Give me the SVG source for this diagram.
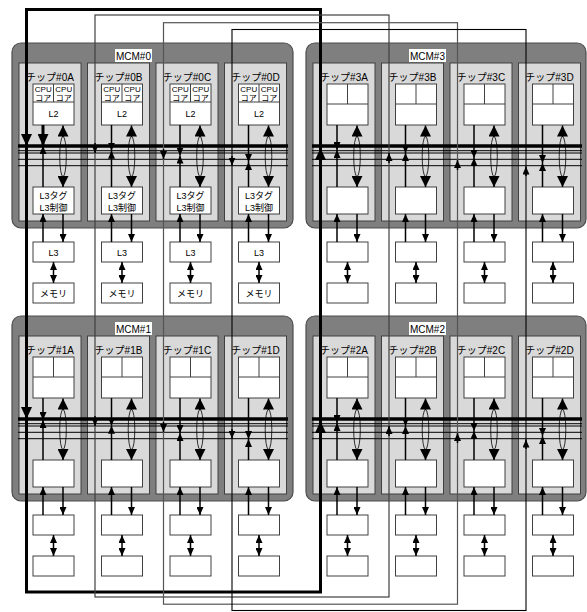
<svg xmlns="http://www.w3.org/2000/svg" width="587" height="612" viewBox="0 0 587 612">
<style>
.mcm{fill:#7f7f7f;stroke:#4d4d4d;stroke-width:1.2}
.chip{fill:#d9d9d9;stroke:#404040;stroke-width:1}
.box{fill:#fff;stroke:#404040;stroke-width:1}
.lbl{fill:#fff;stroke:none}
.sp{stroke:#404040;stroke-width:1}
text{font-family:"Liberation Sans","Noto Sans CJK JP",sans-serif;fill:#000;text-anchor:middle}
.t10{font-size:10px}
.t8{font-size:8px}
.t9{font-size:9px}
.bus{stroke:#000;stroke-width:1;fill:none}
.busT{stroke:#000;stroke-width:3.5}
.c{stroke:#000;stroke-width:1.4;fill:none}
.cs{stroke:#000;stroke-width:1.5;fill:none;marker-end:url(#as)}
.cm{stroke:#000;stroke-width:1.5;fill:none;marker-end:url(#am)}
.cb{stroke:#000;stroke-width:3;fill:none;marker-end:url(#ab)}
.dd{stroke:#000;stroke-width:1.5;fill:none;marker-start:url(#as);marker-end:url(#as)}
.el{stroke:#000;stroke-width:0.8;fill:none}
.lp1{stroke:#000;stroke-width:3;fill:none}
.lp2{stroke:#404040;stroke-width:1.2;fill:none}
.lp3{stroke:#555;stroke-width:1.2;fill:none}
.lp4{stroke:#000;stroke-width:1.1;fill:none}
</style>
<defs>
<marker id="as" viewBox="0 0 10 10" refX="10" refY="5" markerWidth="8" markerHeight="7" markerUnits="userSpaceOnUse" orient="auto-start-reverse" preserveAspectRatio="none"><path d="M0,0L10,5L0,10z" fill="#000"/></marker>
<marker id="am" viewBox="0 0 10 10" refX="10" refY="5" markerWidth="11" markerHeight="11" markerUnits="userSpaceOnUse" orient="auto" preserveAspectRatio="none"><path d="M0,0L10,5L0,10z" fill="#000"/></marker>
<marker id="ab" viewBox="0 0 10 10" refX="10" refY="5" markerWidth="12" markerHeight="11" markerUnits="userSpaceOnUse" orient="auto" preserveAspectRatio="none"><path d="M0,0L10,5L0,10z" fill="#000"/></marker>
</defs>

<!-- MCM#0 -->
<g id="mcm0">
<rect class="mcm" x="12" y="43" width="281" height="185" rx="9"/>
<rect class="lbl" x="115" y="49" width="37" height="13"/>
<text class="t10" x="133.5" y="59.5">MCM#0</text>
</g>
<g id="chip0A"><rect class="chip" x="19" y="63" width="62" height="158"/><text class="t10" x="50" y="81">チップ#0A</text>
<rect class="box" x="33" y="84" width="41" height="41"/><line class="sp" x1="53.5" y1="84" x2="53.5" y2="102"/><line class="sp" x1="33" y1="102" x2="74" y2="102"/>
<text class="t8" x="43.25" y="92">CPU</text><text class="t8" x="63.75" y="92">CPU</text><text class="t8" x="43.25" y="100.5">コア</text><text class="t8" x="63.75" y="100.5">コア</text><text class="t9" x="53.5" y="117">L2</text>
<rect class="box" x="33" y="187" width="41" height="27"/><text class="t9" x="53.5" y="198.5">L3タグ</text><text class="t9" x="53.5" y="210.5">L3制御</text></g>
<g id="chip0B"><rect class="chip" x="87.5" y="63" width="62" height="158"/><text class="t10" x="118.5" y="81">チップ#0B</text>
<rect class="box" x="101.5" y="84" width="41" height="41"/><line class="sp" x1="122" y1="84" x2="122" y2="102"/><line class="sp" x1="101.5" y1="102" x2="142.5" y2="102"/>
<text class="t8" x="111.75" y="92">CPU</text><text class="t8" x="132.25" y="92">CPU</text><text class="t8" x="111.75" y="100.5">コア</text><text class="t8" x="132.25" y="100.5">コア</text><text class="t9" x="122" y="117">L2</text>
<rect class="box" x="101.5" y="187" width="41" height="27"/><text class="t9" x="122" y="198.5">L3タグ</text><text class="t9" x="122" y="210.5">L3制御</text></g>
<g id="chip0C"><rect class="chip" x="156" y="63" width="62" height="158"/><text class="t10" x="187" y="81">チップ#0C</text>
<rect class="box" x="170" y="84" width="41" height="41"/><line class="sp" x1="190.5" y1="84" x2="190.5" y2="102"/><line class="sp" x1="170" y1="102" x2="211" y2="102"/>
<text class="t8" x="180.25" y="92">CPU</text><text class="t8" x="200.75" y="92">CPU</text><text class="t8" x="180.25" y="100.5">コア</text><text class="t8" x="200.75" y="100.5">コア</text><text class="t9" x="190.5" y="117">L2</text>
<rect class="box" x="170" y="187" width="41" height="27"/><text class="t9" x="190.5" y="198.5">L3タグ</text><text class="t9" x="190.5" y="210.5">L3制御</text></g>
<g id="chip0D"><rect class="chip" x="224.5" y="63" width="62" height="158"/><text class="t10" x="255.5" y="81">チップ#0D</text>
<rect class="box" x="238.5" y="84" width="41" height="41"/><line class="sp" x1="259" y1="84" x2="259" y2="102"/><line class="sp" x1="238.5" y1="102" x2="279.5" y2="102"/>
<text class="t8" x="248.75" y="92">CPU</text><text class="t8" x="269.25" y="92">CPU</text><text class="t8" x="248.75" y="100.5">コア</text><text class="t8" x="269.25" y="100.5">コア</text><text class="t9" x="259" y="117">L2</text>
<rect class="box" x="238.5" y="187" width="41" height="27"/><text class="t9" x="259" y="198.5">L3タグ</text><text class="t9" x="259" y="210.5">L3制御</text></g>
<g id="bus0"><line class="busT" x1="18" y1="146" x2="288" y2="146"/><line class="bus" x1="18" y1="150.7" x2="288" y2="150.7"/><line class="bus" x1="18" y1="153" x2="288" y2="153"/><line class="bus" x1="18" y1="159.3" x2="288" y2="159.3"/><line class="bus" x1="18" y1="165.7" x2="288" y2="165.7"/></g>
<g id="l3_0A"><rect class="box" x="33" y="242" width="41" height="20"/><text class="t9" x="53.5" y="255.5">L3</text></g>
<g id="mem0A"><rect class="box" x="33" y="283" width="41" height="20"/><text class="t9" x="53.5" y="296.5">メモリ</text></g>
<g id="l3_0B"><rect class="box" x="101.5" y="242" width="41" height="20"/><text class="t9" x="122" y="255.5">L3</text></g>
<g id="mem0B"><rect class="box" x="101.5" y="283" width="41" height="20"/><text class="t9" x="122" y="296.5">メモリ</text></g>
<g id="l3_0C"><rect class="box" x="170" y="242" width="41" height="20"/><text class="t9" x="190.5" y="255.5">L3</text></g>
<g id="mem0C"><rect class="box" x="170" y="283" width="41" height="20"/><text class="t9" x="190.5" y="296.5">メモリ</text></g>
<g id="l3_0D"><rect class="box" x="238.5" y="242" width="41" height="20"/><text class="t9" x="259" y="255.5">L3</text></g>
<g id="mem0D"><rect class="box" x="238.5" y="283" width="41" height="20"/><text class="t9" x="259" y="296.5">メモリ</text></g>

<!-- MCM#3 -->
<g id="mcm3">
<rect class="mcm" x="306" y="43" width="280" height="185" rx="9"/>
<rect class="lbl" x="409" y="49" width="37" height="13"/>
<text class="t10" x="427.5" y="59.5">MCM#3</text>
</g>
<g id="chip3A"><rect class="chip" x="313" y="63" width="62" height="158"/><text class="t10" x="344" y="81">チップ#3A</text>
<rect class="box" x="327" y="84" width="41" height="41"/><line class="sp" x1="347.5" y1="84" x2="347.5" y2="104"/><line class="sp" x1="327" y1="104" x2="368" y2="104"/><rect class="box" x="327" y="187" width="41" height="27"/></g>
<g id="chip3B"><rect class="chip" x="381.5" y="63" width="62" height="158"/><text class="t10" x="412.5" y="81">チップ#3B</text>
<rect class="box" x="395.5" y="84" width="41" height="41"/><line class="sp" x1="416" y1="84" x2="416" y2="104"/><line class="sp" x1="395.5" y1="104" x2="436.5" y2="104"/><rect class="box" x="395.5" y="187" width="41" height="27"/></g>
<g id="chip3C"><rect class="chip" x="450" y="63" width="62" height="158"/><text class="t10" x="481" y="81">チップ#3C</text>
<rect class="box" x="464" y="84" width="41" height="41"/><line class="sp" x1="484.5" y1="84" x2="484.5" y2="104"/><line class="sp" x1="464" y1="104" x2="505" y2="104"/><rect class="box" x="464" y="187" width="41" height="27"/></g>
<g id="chip3D"><rect class="chip" x="518.5" y="63" width="62" height="158"/><text class="t10" x="549.5" y="81">チップ#3D</text>
<rect class="box" x="532.5" y="84" width="41" height="41"/><line class="sp" x1="553" y1="84" x2="553" y2="104"/><line class="sp" x1="532.5" y1="104" x2="573.5" y2="104"/><rect class="box" x="532.5" y="187" width="41" height="27"/></g>
<g id="bus3"><line class="busT" x1="312" y1="146" x2="582" y2="146"/><line class="bus" x1="312" y1="150.7" x2="582" y2="150.7"/><line class="bus" x1="312" y1="153" x2="582" y2="153"/><line class="bus" x1="312" y1="159.3" x2="582" y2="159.3"/><line class="bus" x1="312" y1="165.7" x2="582" y2="165.7"/></g>
<g id="l3_3A"><rect class="box" x="327" y="242" width="41" height="20"/></g><g id="mem3A"><rect class="box" x="327" y="283" width="41" height="20"/></g>
<g id="l3_3B"><rect class="box" x="395.5" y="242" width="41" height="20"/></g><g id="mem3B"><rect class="box" x="395.5" y="283" width="41" height="20"/></g>
<g id="l3_3C"><rect class="box" x="464" y="242" width="41" height="20"/></g><g id="mem3C"><rect class="box" x="464" y="283" width="41" height="20"/></g>
<g id="l3_3D"><rect class="box" x="532.5" y="242" width="41" height="20"/></g><g id="mem3D"><rect class="box" x="532.5" y="283" width="41" height="20"/></g>

<!-- MCM#1 -->
<g id="mcm1">
<rect class="mcm" x="12" y="316" width="281" height="185" rx="9"/>
<rect class="lbl" x="115" y="322" width="37" height="13"/>
<text class="t10" x="133.5" y="332.5">MCM#1</text>
</g>
<g id="chip1A"><rect class="chip" x="19" y="336" width="62" height="158"/><text class="t10" x="50" y="354">チップ#1A</text>
<rect class="box" x="33" y="357" width="41" height="41"/><line class="sp" x1="53.5" y1="357" x2="53.5" y2="377"/><line class="sp" x1="33" y1="377" x2="74" y2="377"/><rect class="box" x="33" y="460" width="41" height="27"/></g>
<g id="chip1B"><rect class="chip" x="87.5" y="336" width="62" height="158"/><text class="t10" x="118.5" y="354">チップ#1B</text>
<rect class="box" x="101.5" y="357" width="41" height="41"/><line class="sp" x1="122" y1="357" x2="122" y2="377"/><line class="sp" x1="101.5" y1="377" x2="142.5" y2="377"/><rect class="box" x="101.5" y="460" width="41" height="27"/></g>
<g id="chip1C"><rect class="chip" x="156" y="336" width="62" height="158"/><text class="t10" x="187" y="354">チップ#1C</text>
<rect class="box" x="170" y="357" width="41" height="41"/><line class="sp" x1="190.5" y1="357" x2="190.5" y2="377"/><line class="sp" x1="170" y1="377" x2="211" y2="377"/><rect class="box" x="170" y="460" width="41" height="27"/></g>
<g id="chip1D"><rect class="chip" x="224.5" y="336" width="62" height="158"/><text class="t10" x="255.5" y="354">チップ#1D</text>
<rect class="box" x="238.5" y="357" width="41" height="41"/><line class="sp" x1="259" y1="357" x2="259" y2="377"/><line class="sp" x1="238.5" y1="377" x2="279.5" y2="377"/><rect class="box" x="238.5" y="460" width="41" height="27"/></g>
<g id="bus1"><line class="busT" x1="18" y1="419" x2="288" y2="419"/><line class="bus" x1="18" y1="423.7" x2="288" y2="423.7"/><line class="bus" x1="18" y1="426" x2="288" y2="426"/><line class="bus" x1="18" y1="432.3" x2="288" y2="432.3"/><line class="bus" x1="18" y1="438.7" x2="288" y2="438.7"/></g>
<g id="l3_1A"><rect class="box" x="33" y="515" width="41" height="20"/></g><g id="mem1A"><rect class="box" x="33" y="556" width="41" height="20"/></g>
<g id="l3_1B"><rect class="box" x="101.5" y="515" width="41" height="20"/></g><g id="mem1B"><rect class="box" x="101.5" y="556" width="41" height="20"/></g>
<g id="l3_1C"><rect class="box" x="170" y="515" width="41" height="20"/></g><g id="mem1C"><rect class="box" x="170" y="556" width="41" height="20"/></g>
<g id="l3_1D"><rect class="box" x="238.5" y="515" width="41" height="20"/></g><g id="mem1D"><rect class="box" x="238.5" y="556" width="41" height="20"/></g>

<!-- MCM#2 -->
<g id="mcm2">
<rect class="mcm" x="306" y="316" width="280" height="185" rx="9"/>
<rect class="lbl" x="409" y="322" width="37" height="13"/>
<text class="t10" x="427.5" y="332.5">MCM#2</text>
</g>
<g id="chip2A"><rect class="chip" x="313" y="336" width="62" height="158"/><text class="t10" x="344" y="354">チップ#2A</text>
<rect class="box" x="327" y="357" width="41" height="41"/><line class="sp" x1="347.5" y1="357" x2="347.5" y2="377"/><line class="sp" x1="327" y1="377" x2="368" y2="377"/><rect class="box" x="327" y="460" width="41" height="27"/></g>
<g id="chip2B"><rect class="chip" x="381.5" y="336" width="62" height="158"/><text class="t10" x="412.5" y="354">チップ#2B</text>
<rect class="box" x="395.5" y="357" width="41" height="41"/><line class="sp" x1="416" y1="357" x2="416" y2="377"/><line class="sp" x1="395.5" y1="377" x2="436.5" y2="377"/><rect class="box" x="395.5" y="460" width="41" height="27"/></g>
<g id="chip2C"><rect class="chip" x="450" y="336" width="62" height="158"/><text class="t10" x="481" y="354">チップ#2C</text>
<rect class="box" x="464" y="357" width="41" height="41"/><line class="sp" x1="484.5" y1="357" x2="484.5" y2="377"/><line class="sp" x1="464" y1="377" x2="505" y2="377"/><rect class="box" x="464" y="460" width="41" height="27"/></g>
<g id="chip2D"><rect class="chip" x="518.5" y="336" width="62" height="158"/><text class="t10" x="549.5" y="354">チップ#2D</text>
<rect class="box" x="532.5" y="357" width="41" height="41"/><line class="sp" x1="553" y1="357" x2="553" y2="377"/><line class="sp" x1="532.5" y1="377" x2="573.5" y2="377"/><rect class="box" x="532.5" y="460" width="41" height="27"/></g>
<g id="bus2"><line class="busT" x1="312" y1="419" x2="582" y2="419"/><line class="bus" x1="312" y1="423.7" x2="582" y2="423.7"/><line class="bus" x1="312" y1="426" x2="582" y2="426"/><line class="bus" x1="312" y1="432.3" x2="582" y2="432.3"/><line class="bus" x1="312" y1="438.7" x2="582" y2="438.7"/></g>
<g id="l3_2A"><rect class="box" x="327" y="515" width="41" height="20"/></g><g id="mem2A"><rect class="box" x="327" y="556" width="41" height="20"/></g>
<g id="l3_2B"><rect class="box" x="395.5" y="515" width="41" height="20"/></g><g id="mem2B"><rect class="box" x="395.5" y="556" width="41" height="20"/></g>
<g id="l3_2C"><rect class="box" x="464" y="515" width="41" height="20"/></g><g id="mem2C"><rect class="box" x="464" y="556" width="41" height="20"/></g>
<g id="l3_2D"><rect class="box" x="532.5" y="515" width="41" height="20"/></g><g id="mem2D"><rect class="box" x="532.5" y="556" width="41" height="20"/></g>

<g id="connectors">
<!-- ring loops -->
<rect class="lp1" x="26.5" y="9.5" width="294" height="582.5"/>
<rect class="lp2" x="95" y="15" width="294" height="582"/>
<rect class="lp3" x="163.5" y="22.7" width="294" height="581.5"/>
<rect class="lp4" x="232" y="29.5" width="294" height="581"/>
<!-- loop arrows into buses -->
<line class="cb" x1="26.5" y1="132" x2="26.5" y2="146"/>
<line class="cs" x1="95" y1="143" x2="95" y2="153"/>
<line class="cs" x1="163.5" y1="149" x2="163.5" y2="159"/>
<line class="cs" x1="232" y1="156" x2="232" y2="165.5"/>
<line class="cb" x1="26.5" y1="405" x2="26.5" y2="419"/>
<line class="cs" x1="95" y1="416" x2="95" y2="426"/>
<line class="cs" x1="163.5" y1="422" x2="163.5" y2="432"/>
<line class="cs" x1="232" y1="429" x2="232" y2="438.5"/>
<line class="cb" x1="320.5" y1="161" x2="320.5" y2="148"/>
<line class="cs" x1="389" y1="163" x2="389" y2="153"/>
<line class="cs" x1="457.5" y1="170" x2="457.5" y2="160"/>
<line class="cs" x1="526" y1="176" x2="526" y2="166.5"/>
<line class="cb" x1="320.5" y1="434" x2="320.5" y2="421"/>
<line class="cs" x1="389" y1="436" x2="389" y2="426"/>
<line class="cs" x1="457.5" y1="443" x2="457.5" y2="433"/>
<line class="cs" x1="526" y1="449" x2="526" y2="439.5"/>

<!-- per-chip connections: MCM#0 -->
<line class="cb" x1="43" y1="125" x2="43" y2="146"/><line class="cs" x1="43" y1="187" x2="43" y2="146"/>
<line class="cs" x1="111.5" y1="125" x2="111.5" y2="150.7"/><line class="cs" x1="111.5" y1="187" x2="111.5" y2="150.7"/>
<line class="cs" x1="180" y1="125" x2="180" y2="155.5"/><line class="cs" x1="180" y1="187" x2="180" y2="155.5"/>
<line class="cs" x1="248.5" y1="125" x2="248.5" y2="162"/><line class="cs" x1="248.5" y1="187" x2="248.5" y2="162"/>
<!-- MCM#3 -->
<line class="cs" x1="337" y1="125" x2="337" y2="150"/><line class="cs" x1="337" y1="187" x2="337" y2="150"/>
<line class="cs" x1="405.5" y1="125" x2="405.5" y2="153"/><line class="cs" x1="405.5" y1="187" x2="405.5" y2="153"/>
<line class="cs" x1="474" y1="125" x2="474" y2="158"/><line class="cs" x1="474" y1="187" x2="474" y2="158"/>
<line class="cs" x1="542.5" y1="125" x2="542.5" y2="163"/><line class="cs" x1="542.5" y1="187" x2="542.5" y2="163"/>
<!-- MCM#1 -->
<line class="cs" x1="43" y1="398" x2="43" y2="420"/><line class="cs" x1="43" y1="460" x2="43" y2="420"/>
<line class="cs" x1="111.5" y1="398" x2="111.5" y2="425.7"/><line class="cs" x1="111.5" y1="460" x2="111.5" y2="425.7"/>
<line class="cs" x1="180" y1="398" x2="180" y2="433"/><line class="cs" x1="180" y1="460" x2="180" y2="433"/>
<line class="cs" x1="248.5" y1="398" x2="248.5" y2="439"/><line class="cs" x1="248.5" y1="460" x2="248.5" y2="439"/>
<!-- MCM#2 -->
<line class="cs" x1="337" y1="398" x2="337" y2="423"/><line class="cs" x1="337" y1="460" x2="337" y2="423"/>
<line class="cs" x1="405.5" y1="398" x2="405.5" y2="426"/><line class="cs" x1="405.5" y1="460" x2="405.5" y2="426"/>
<line class="cs" x1="474" y1="398" x2="474" y2="431"/><line class="cs" x1="474" y1="460" x2="474" y2="431"/>
<line class="cs" x1="542.5" y1="398" x2="542.5" y2="436"/><line class="cs" x1="542.5" y1="460" x2="542.5" y2="436"/>

<!-- ring ellipses with arrows (top row) -->
<g id="rings">
<line class="cm" x1="63" y1="137" x2="63" y2="125.5"/><line class="cm" x1="63" y1="176" x2="63" y2="187"/><ellipse class="el" cx="63" cy="156.5" rx="3.3" ry="20"/>
<line class="cm" x1="131.5" y1="137" x2="131.5" y2="125.5"/><line class="cm" x1="131.5" y1="176" x2="131.5" y2="187"/><ellipse class="el" cx="131.5" cy="156.5" rx="3.3" ry="20"/>
<line class="cm" x1="200" y1="137" x2="200" y2="125.5"/><line class="cm" x1="200" y1="176" x2="200" y2="187"/><ellipse class="el" cx="200" cy="156.5" rx="3.3" ry="20"/>
<line class="cm" x1="268.5" y1="137" x2="268.5" y2="125.5"/><line class="cm" x1="268.5" y1="176" x2="268.5" y2="187"/><ellipse class="el" cx="268.5" cy="156.5" rx="3.3" ry="20"/>
<line class="cm" x1="357" y1="137" x2="357" y2="125.5"/><line class="cm" x1="357" y1="176" x2="357" y2="187"/><ellipse class="el" cx="357" cy="156.5" rx="3.3" ry="20"/>
<line class="cm" x1="425.5" y1="137" x2="425.5" y2="125.5"/><line class="cm" x1="425.5" y1="176" x2="425.5" y2="187"/><ellipse class="el" cx="425.5" cy="156.5" rx="3.3" ry="20"/>
<line class="cm" x1="494" y1="137" x2="494" y2="125.5"/><line class="cm" x1="494" y1="176" x2="494" y2="187"/><ellipse class="el" cx="494" cy="156.5" rx="3.3" ry="20"/>
<line class="cm" x1="562.5" y1="137" x2="562.5" y2="125.5"/><line class="cm" x1="562.5" y1="176" x2="562.5" y2="187"/><ellipse class="el" cx="562.5" cy="156.5" rx="3.3" ry="20"/>
<!-- bottom row -->
<line class="cm" x1="63" y1="410" x2="63" y2="398.5"/><line class="cm" x1="63" y1="449" x2="63" y2="460"/><ellipse class="el" cx="63" cy="429.5" rx="3.3" ry="20"/>
<line class="cm" x1="131.5" y1="410" x2="131.5" y2="398.5"/><line class="cm" x1="131.5" y1="449" x2="131.5" y2="460"/><ellipse class="el" cx="131.5" cy="429.5" rx="3.3" ry="20"/>
<line class="cm" x1="200" y1="410" x2="200" y2="398.5"/><line class="cm" x1="200" y1="449" x2="200" y2="460"/><ellipse class="el" cx="200" cy="429.5" rx="3.3" ry="20"/>
<line class="cm" x1="268.5" y1="410" x2="268.5" y2="398.5"/><line class="cm" x1="268.5" y1="449" x2="268.5" y2="460"/><ellipse class="el" cx="268.5" cy="429.5" rx="3.3" ry="20"/>
<line class="cm" x1="357" y1="410" x2="357" y2="398.5"/><line class="cm" x1="357" y1="449" x2="357" y2="460"/><ellipse class="el" cx="357" cy="429.5" rx="3.3" ry="20"/>
<line class="cm" x1="425.5" y1="410" x2="425.5" y2="398.5"/><line class="cm" x1="425.5" y1="449" x2="425.5" y2="460"/><ellipse class="el" cx="425.5" cy="429.5" rx="3.3" ry="20"/>
<line class="cm" x1="494" y1="410" x2="494" y2="398.5"/><line class="cm" x1="494" y1="449" x2="494" y2="460"/><ellipse class="el" cx="494" cy="429.5" rx="3.3" ry="20"/>
<line class="cm" x1="562.5" y1="410" x2="562.5" y2="398.5"/><line class="cm" x1="562.5" y1="449" x2="562.5" y2="460"/><ellipse class="el" cx="562.5" cy="429.5" rx="3.3" ry="20"/>
</g>

<!-- L3 tag <-> L3 <-> memory -->
<g id="l3links">
<line class="cs" x1="43" y1="242" x2="43" y2="214"/><line class="cs" x1="63" y1="214" x2="63" y2="242"/><line class="dd" x1="53.5" y1="262" x2="53.5" y2="283"/>
<line class="cs" x1="111.5" y1="242" x2="111.5" y2="214"/><line class="cs" x1="131.5" y1="214" x2="131.5" y2="242"/><line class="dd" x1="122" y1="262" x2="122" y2="283"/>
<line class="cs" x1="180" y1="242" x2="180" y2="214"/><line class="cs" x1="200" y1="214" x2="200" y2="242"/><line class="dd" x1="190.5" y1="262" x2="190.5" y2="283"/>
<line class="cs" x1="248.5" y1="242" x2="248.5" y2="214"/><line class="cs" x1="268.5" y1="214" x2="268.5" y2="242"/><line class="dd" x1="259" y1="262" x2="259" y2="283"/>
<line class="cs" x1="337" y1="242" x2="337" y2="214"/><line class="cs" x1="357" y1="214" x2="357" y2="242"/><line class="dd" x1="347.5" y1="262" x2="347.5" y2="283"/>
<line class="cs" x1="405.5" y1="242" x2="405.5" y2="214"/><line class="cs" x1="425.5" y1="214" x2="425.5" y2="242"/><line class="dd" x1="416" y1="262" x2="416" y2="283"/>
<line class="cs" x1="474" y1="242" x2="474" y2="214"/><line class="cs" x1="494" y1="214" x2="494" y2="242"/><line class="dd" x1="484.5" y1="262" x2="484.5" y2="283"/>
<line class="cs" x1="542.5" y1="242" x2="542.5" y2="214"/><line class="cs" x1="562.5" y1="214" x2="562.5" y2="242"/><line class="dd" x1="553" y1="262" x2="553" y2="283"/>
<line class="cs" x1="43" y1="515" x2="43" y2="487"/><line class="cs" x1="63" y1="487" x2="63" y2="515"/><line class="dd" x1="53.5" y1="535" x2="53.5" y2="556"/>
<line class="cs" x1="111.5" y1="515" x2="111.5" y2="487"/><line class="cs" x1="131.5" y1="487" x2="131.5" y2="515"/><line class="dd" x1="122" y1="535" x2="122" y2="556"/>
<line class="cs" x1="180" y1="515" x2="180" y2="487"/><line class="cs" x1="200" y1="487" x2="200" y2="515"/><line class="dd" x1="190.5" y1="535" x2="190.5" y2="556"/>
<line class="cs" x1="248.5" y1="515" x2="248.5" y2="487"/><line class="cs" x1="268.5" y1="487" x2="268.5" y2="515"/><line class="dd" x1="259" y1="535" x2="259" y2="556"/>
<line class="cs" x1="337" y1="515" x2="337" y2="487"/><line class="cs" x1="357" y1="487" x2="357" y2="515"/><line class="dd" x1="347.5" y1="535" x2="347.5" y2="556"/>
<line class="cs" x1="405.5" y1="515" x2="405.5" y2="487"/><line class="cs" x1="425.5" y1="487" x2="425.5" y2="515"/><line class="dd" x1="416" y1="535" x2="416" y2="556"/>
<line class="cs" x1="474" y1="515" x2="474" y2="487"/><line class="cs" x1="494" y1="487" x2="494" y2="515"/><line class="dd" x1="484.5" y1="535" x2="484.5" y2="556"/>
<line class="cs" x1="542.5" y1="515" x2="542.5" y2="487"/><line class="cs" x1="562.5" y1="487" x2="562.5" y2="515"/><line class="dd" x1="553" y1="535" x2="553" y2="556"/>
</g>
</g>
</svg>
